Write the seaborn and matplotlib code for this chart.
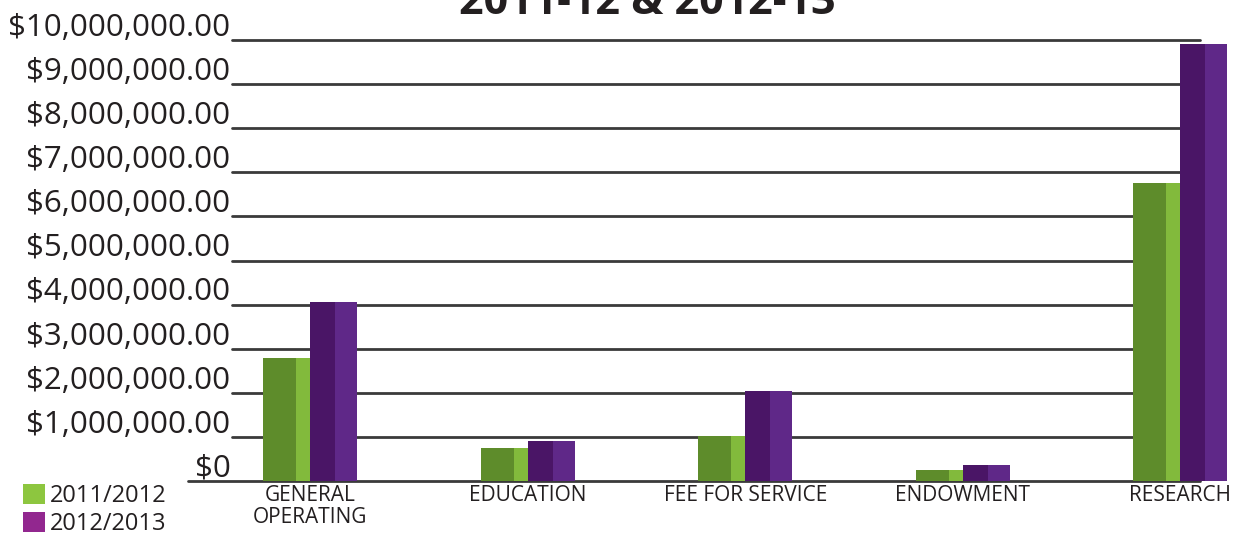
import matplotlib
matplotlib.use("Agg")
import matplotlib.pyplot as plt
import seaborn as sns
import pandas as pd
from matplotlib.patches import Rectangle, Patch
from matplotlib.transforms import ScaledTranslation

# ---- data ----
categories = ["GENERAL\nOPERATING", "EDUCATION", "FEE FOR SERVICE", "ENDOWMENT", "RESEARCH"]
years = ["2011/2012", "2012/2013"]
values_2011 = [2800000, 750000, 1030000, 250000, 6750000]
values_2012 = [4070000, 910000, 2040000, 370000, 9900000]
y_ticks = [0, 1000000, 2000000, 3000000, 4000000, 5000000,
           6000000, 7000000, 8000000, 9000000, 10000000]
title = "2011-12 & 2012-13"

df = pd.DataFrame({
    "category": categories * 2,
    "year": [years[0]] * len(categories) + [years[1]] * len(categories),
    "value": values_2011 + values_2012,
})

# ---- style ----
green_dark, green_light, green_leg = "#5E8C2B", "#82BA3C", "#8DC63F"
purple_dark, purple_light, purple_leg = "#4A1566", "#5F2888", "#92278F"
text_col = "#231F20"

sns.set_theme(style="white")
plt.rcParams["font.family"] = ["Open Sans", "DejaVu Sans"]

W, H = 1236, 537
fig = plt.figure(figsize=(W / 100, H / 100), dpi=100)
left_px, bottom_px, top_px = 232, 481, 31.2
ax = fig.add_axes([left_px / W, (H - bottom_px) / H, 1 - left_px / W, (bottom_px - top_px) / H])

sns.barplot(data=df, x="category", y="value", hue="year", order=categories,
            hue_order=years, palette=[green_dark, purple_dark], width=0.432,
            saturation=1, legend=False, ax=ax, linewidth=0, zorder=2)

# two-tone "3D" faces
for cont, light, frac in zip(ax.containers, [green_light, purple_light], [0.3, 0.47]):
    for p in cont.patches:
        x, w, h = p.get_x(), p.get_width(), p.get_height()
        ax.add_patch(Rectangle((x + w * (1 - frac), 0), w * frac, h,
                               facecolor=light, edgecolor="none", zorder=2.5))

ax.set_xlim(-0.36, 4.256)
ax.set_ylim(0, 10200000)

# grid lines
for t in y_ticks:
    xmin = -0.044 if t == 0 else 0
    ax.axhline(t, xmin=xmin, xmax=0.964, color="#3a3a3a", lw=2, zorder=1, clip_on=False)

ax.set_yticks(y_ticks)
ax.set_yticklabels(["$0" if v == 0 else f"${v:,.2f}" for v in y_ticks])
ax.tick_params(axis="y", length=0, pad=1, labelsize=22.5, labelcolor=text_col)
for lab in ax.get_yticklabels():
    lab.set_verticalalignment("baseline")
    lab.set_transform(lab.get_transform() + ScaledTranslation(0, 3 / 72, fig.dpi_scale_trans))

ax.tick_params(axis="x", length=0, pad=3, labelsize=15, labelcolor=text_col)
for lab in ax.get_xticklabels():
    lab.set_linespacing(1.05)

ax.set_xlabel("")
ax.set_ylabel("")
for s in ax.spines.values():
    s.set_visible(False)
ax.grid(False)

fig.text(647 / W, 1 - 14 / H, title, ha="center", va="baseline",
         fontsize=31, fontweight="bold", color=text_col)

handles = [Patch(facecolor=green_leg, edgecolor="none"),
           Patch(facecolor=purple_leg, edgecolor="none")]
fig.legend(handles, years, loc="upper left", bbox_to_anchor=(23 / W, 1 - 484 / H),
           frameon=False, fontsize=17, handlelength=0.95, handleheight=0.95,
           handletextpad=0.2, labelspacing=0.15, borderpad=0, borderaxespad=0,
           labelcolor=text_col)

fig.savefig("out.png", dpi=100)
